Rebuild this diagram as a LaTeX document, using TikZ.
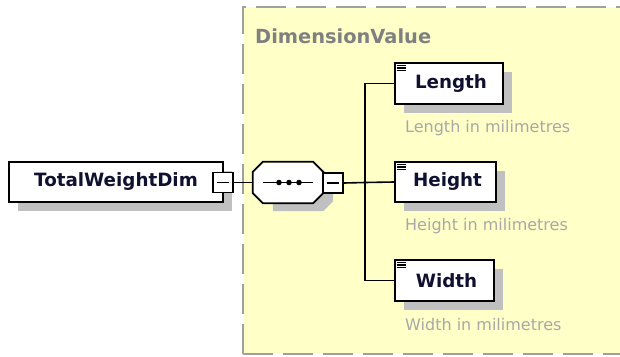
\documentclass[tikz,border=0pt]{standalone}
\usepackage{fontspec}
\setmainfont{DejaVu Sans}
\usetikzlibrary{shadows}
\definecolor{bgyellow}{HTML}{FFFFC8}
\definecolor{dashgray}{HTML}{A0A0A0}
\definecolor{shadowgray}{HTML}{C0C0C0}
\definecolor{labelgray}{HTML}{808080}
\definecolor{descgray}{HTML}{A8A8A8}
\definecolor{ink}{HTML}{101030}
\begin{document}
\begin{tikzpicture}[x=1pt,y=-1pt,
  elem/.style={draw=black, line width=2pt, fill=white, inner sep=0pt,
    font=\fontsize{18.3pt}{20pt}\selectfont\bfseries, text=ink,
    drop shadow={shadow xshift=9pt, shadow yshift=-9pt, fill=shadowgray, opacity=1}},
  minusbox/.style={draw=black, line width=1.8pt, fill=white, minimum size=20pt, inner sep=0pt},
  conn/.style={draw=black, line width=1.6pt},
  desc/.style={anchor=base west, inner sep=0pt, text=descgray, font=\fontsize{16pt}{18pt}\selectfont},
  icon/.style={draw=black, line width=1.1pt}
]
\useasboundingbox (0,0) rectangle (620,356);
% group background
\fill[bgyellow] (243,7) rectangle (622,354);
\draw[dashgray, line width=2pt, dash pattern=on 30pt off 10pt] (243,354) -- (243,7) -- (622,7);
\draw[dashgray, line width=2pt, dash pattern=on 30pt off 10pt] (243,354) -- (622,354);
\node[anchor=base west, inner sep=0pt, text=labelgray, font=\fontsize{19.4pt}{21pt}\selectfont\bfseries] (grp) at (255,43) {DimensionValue};

% root element
\node[elem, minimum width=214pt, minimum height=40pt] (tw) at (116,182) {TotalWeightDim};
\node[minusbox] (m1) at (223,182.5) {};
\draw[black, line width=1.7pt] ([xshift=-6pt]m1.center) -- ([xshift=6pt]m1.center);

% sequence compositor
\node[minimum width=70pt, minimum height=41pt, inner sep=0pt] (seq) at (288,182.5) {};
\fill[shadowgray] ([shift={(20,8)}]seq.north west) -- ([shift={(0,8)}]seq.north east) -- ([shift={(10,18)}]seq.north east)
  -- ([shift={(10,-2)}]seq.south east) -- ([shift={(0,8)}]seq.south east) -- ([shift={(20,8)}]seq.south west) -- cycle;
\draw[black, line width=1.8pt, fill=white]
  ([xshift=10pt]seq.north west) -- ([xshift=-10pt]seq.north east) -- ([yshift=-10pt]seq.north east)
  -- ([yshift=10pt]seq.south east) -- ([xshift=-10pt]seq.south east) -- ([xshift=10pt]seq.south west)
  -- ([yshift=10pt]seq.south west) -- ([yshift=-10pt]seq.north west) -- cycle;
\draw[black, line width=1.6pt] ([xshift=-25pt]seq.center) -- ([xshift=25pt]seq.center);
\foreach \dx in {-9,1,11} \fill[black] ([xshift=\dx pt]seq.center) circle (2.8pt);
\node[minusbox] (m2) at (333,183) {};
\draw[black, line width=1.7pt] ([xshift=-6pt]m2.center) -- ([xshift=6pt]m2.center);

% child elements
\node[elem, minimum width=108pt, minimum height=41pt] (len) at (449,83.5) {\hspace*{4pt}Length};
\node[elem, minimum width=101pt, minimum height=40pt] (hei) at (445.5,182) {\hspace*{4pt}Height};
\node[elem, minimum width=99pt, minimum height=41pt] (wid) at (444.5,280.5) {\hspace*{4pt}Width};

\foreach \n in {len,hei,wid}{
  \foreach \dy in {3.5,6,8.5}
    \draw[icon] ([shift={(2.5,\dy)}]\n.north west) -- ++(9,0);
}

\node[desc] (lend) at (405,132) {Length in milimetres};
\node[desc] (heid) at (405,230) {Height in milimetres};
\node[desc] (widd) at (405,330) {Width in milimetres};

% connectors
\coordinate (j) at (365,182.5);
\draw[conn] (m1.east) -- (seq.west);
\draw[conn] (m2.east) -- (j);
\draw[conn] (len.west) -| (j);
\draw[conn] (wid.west) -| (j);
\draw[conn] (j) -- (hei.west);
\end{tikzpicture}
\end{document}
